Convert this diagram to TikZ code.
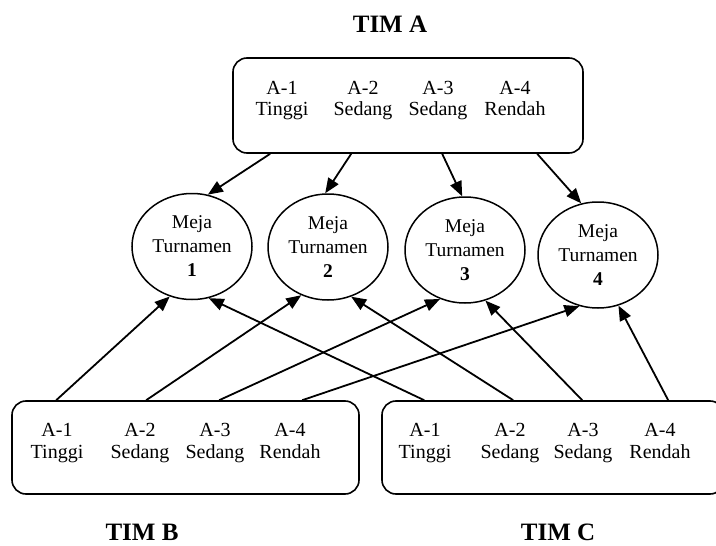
\documentclass[tikz,border=0pt]{standalone}
\usepackage{fontspec}
\setmainfont{Liberation Serif}
\usetikzlibrary{calc,shapes.geometric,arrows.meta}
\begin{document}
\begin{tikzpicture}[x=1pt,y=-1pt,
  box/.style={draw,line width=1.6pt,rounded corners=14pt,inner sep=0pt},
  meja/.style={draw,ellipse,line width=1.5pt,minimum width=120pt,minimum height=106pt,inner sep=0pt,align=center,font=\fontsize{19.5}{24}\selectfont},
  col/.style={align=center,inner sep=0pt,font=\fontsize{20}{21.5}\selectfont},
  tim/.style={font=\fontsize{25}{30}\selectfont\bfseries},
  arr/.style={line width=1.8pt,-{Triangle[length=15pt,width=12pt]}}
]
\useasboundingbox (0,0) rectangle (716,546);
\clip (0,0) rectangle (716,546);

% Team A
\node[tim] (timA) at (390,24) {TIM A};
\node[box,minimum width=350pt,minimum height=95pt] (boxA) at (408,105.5) {};
\node[col] (a1) at (282,100.5) {\strut A-1\\\strut Tinggi};
\node[col] (a2) at (363,100.5) {\strut A-2\\\strut Sedang};
\node[col] (a3) at (438,100.5) {\strut A-3\\\strut Sedang};
\node[col] (a4) at (515,100.5) {\strut A-4\\\strut Rendah};

% Tournament tables
\node[meja] (m1) at (192,246.5) {Meja\\Turnamen\\\textbf{1}};
\node[meja] (m2) at (328,247) {Meja\\Turnamen\\\textbf{2}};
\node[meja] (m3) at (465,250) {Meja\\Turnamen\\\textbf{3}};
\node[meja] (m4) at (598,255) {Meja\\Turnamen\\\textbf{4}};

% Team B
\node[box,minimum width=347pt,minimum height=93pt] (boxB) at (185.5,447.5) {};
\node[col] (b1) at (57,443) {\strut A-1\\\strut Tinggi};
\node[col] (b2) at (140,443) {\strut A-2\\\strut Sedang};
\node[col] (b3) at (215,443) {\strut A-3\\\strut Sedang};
\node[col] (b4) at (290,443) {\strut A-4\\\strut Rendah};
\node[tim] (timB) at (142,532) {TIM B};

% Team C
\node[box,minimum width=342pt,minimum height=93pt] (boxC) at (553,447.5) {};
\node[col] (c1) at (425,443) {\strut A-1\\\strut Tinggi};
\node[col] (c2) at (510,443) {\strut A-2\\\strut Sedang};
\node[col] (c3) at (583,443) {\strut A-3\\\strut Sedang};
\node[col] (c4) at (660,443) {\strut A-4\\\strut Rendah};
\node[tim] (timC) at (558,532) {TIM C};

% arrows from team A
\draw[arr] ($(boxA.south west)+(38,0)$) -- (m1.73);
\draw[arr] ($(boxA.south west)+(119,0)$) -- (m2.93);
\draw[arr] ($(boxA.south west)+(210,0)$) -- (m3.93);
\draw[arr] ($(boxA.south west)+(305,0)$) -- (m4.108);

% arrows from team B
\draw[arr] ($(boxB.north west)+(45,0)$) -- (m1.246);
\draw[arr] ($(boxB.north west)+(135,0)$) -- (m2.241);
\draw[arr] ($(boxB.north west)+(208,0)$) -- (m3.243);
\draw[arr] ($(boxB.north west)+(291,0)$) -- (m4.250);

% arrows from team C
\draw[arr] ($(boxC.north west)+(43,0)$) -- (m1.288);
\draw[arr] ($(boxC.north west)+(132,0)$) -- (m2.295);
\draw[arr] ($(boxC.north west)+(201,0)$) -- (m3.292);
\draw[arr] ($(boxC.north west)+(287,0)$) -- (m4.292);
\end{tikzpicture}
\end{document}
